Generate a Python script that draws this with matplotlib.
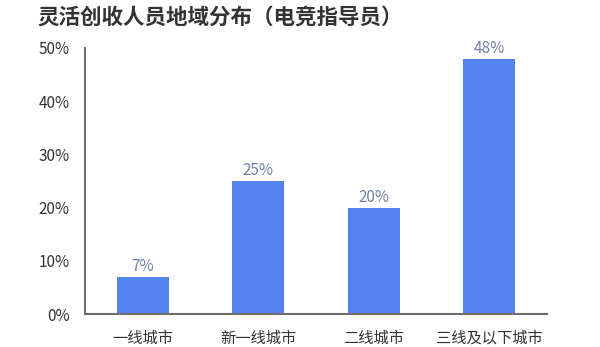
import matplotlib
matplotlib.use('Agg')
import matplotlib.pyplot as plt
from matplotlib.ticker import PercentFormatter

plt.rcParams['font.family'] = ['Noto Sans CJK SC', 'DejaVu Sans']

categories = ['一线城市', '新一线城市', '二线城市', '三线及以下城市']
shares = [7, 25, 20, 48]
yticks = [0, 10, 20, 30, 40, 50]

fig = plt.figure(figsize=(6, 3.47), dpi=100)
ax = fig.add_axes([0.1417, 0.095, 0.77, 0.767])

bars = ax.bar(range(len(categories)), shares, width=0.45, color='#5483f0')
for rect, v in zip(bars, shares):
    ax.text(rect.get_x() + rect.get_width() / 2, v + 0.3, '{}%'.format(v),
            ha='center', va='bottom', fontsize=11, color='#6f80a6')

ax.set_xlim(-0.5, 3.5)
ax.set_ylim(0, 50)
ax.set_yticks(yticks)
ax.yaxis.set_major_formatter(PercentFormatter(decimals=0))
ax.set_xticks(range(len(categories)))
ax.set_xticklabels(categories)
ax.tick_params(axis='both', length=0, labelsize=11, labelcolor='#333333')
ax.tick_params(axis='y', pad=11)
ax.tick_params(axis='x', pad=11)

for side in ['top', 'right']:
    ax.spines[side].set_visible(False)
for side in ['left', 'bottom']:
    ax.spines[side].set_color('#6e6e6e')
    ax.spines[side].set_linewidth(1.5)

fig.text(0.062, 0.95, '灵活创收人员地域分布（电竞指导员）', fontsize=15.5,
         fontweight='bold', color='#333333', va='center', ha='left')

fig.savefig('out.png', dpi=100)
